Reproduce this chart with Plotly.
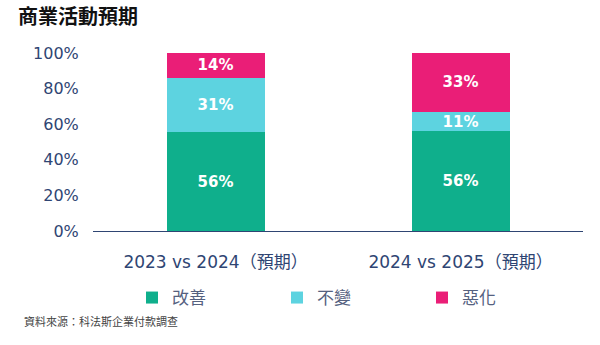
import plotly.graph_objects as go

categories = ["2023 vs 2024（預期）", "2024 vs 2025（預期）"]
series_names = ["改善", "不變", "惡化"]
improve = [56, 56]
unchanged = [31, 11]
worse = [14, 33]
colors = ["#0FAF8C", "#5DD3E0", "#EA1E77"]
y_ticks = [0, 20, 40, 60, 80, 100]

FONT = "DejaVu Sans, Noto Sans CJK TC, sans-serif"
NAVY = "#2F4573"
legend_ids = ["legend", "legend2", "legend3"]
legend_x_px = [132, 277, 422]

fig = go.Figure()
for name, vals, col, lg in zip(series_names, [improve, unchanged, worse], colors, legend_ids):
    fig.add_trace(go.Bar(
        x=categories, y=vals, name=name, marker=dict(color=col, line=dict(width=0)),
        text=[f"{v}%" for v in vals], textposition="inside", insidetextanchor="middle",
        textangle=0, constraintext="none", legend=lg,
        textfont=dict(family=FONT, size=15, color="white", weight="bold"),
        hoverinfo="skip",
    ))

legend_common = dict(orientation="h", xref="container", yref="container",
                     xanchor="left", y=1 - 298 / 345, yanchor="middle",
                     font=dict(size=17, color="#55617F"), bgcolor="rgba(0,0,0,0)")
layout_legends = {}
for lg, xp in zip(legend_ids, legend_x_px):
    layout_legends[lg] = dict(legend_common, x=xp / 600)

fig.update_layout(
    barmode="stack", barnorm="percent", bargap=0.6,
    width=600, height=345,
    margin=dict(l=93, r=17, t=53, b=114, autoexpand=False),
    paper_bgcolor="white", plot_bgcolor="white",
    font=dict(family=FONT, color=NAVY, size=16),
    showlegend=True,
    annotations=[
        dict(text="<b>商業活動預期</b>", xref="paper", yref="paper", x=-0.157, y=1.202,
             xanchor="left", yanchor="middle", showarrow=False,
             font=dict(size=20, color="#111111", family=FONT)),
        dict(text="資料來源：科法斯企業付款調查", xref="paper", yref="paper", x=-0.145, y=-0.512,
             xanchor="left", yanchor="middle", showarrow=False,
             font=dict(size=11, color="#444444", family=FONT)),
    ],
    **layout_legends,
)
fig.update_yaxes(range=[0, 100], tickvals=y_ticks, ticktext=[f"{t}%" for t in y_ticks],
                 showgrid=False, zeroline=False, showline=False,
                 ticks="outside", ticklen=10, tickcolor="rgba(0,0,0,0)",
                 tickfont=dict(size=16, color=NAVY))
fig.update_xaxes(showline=True, linecolor=NAVY, linewidth=1, showgrid=False,
                 ticks="outside", ticklen=16, tickcolor="rgba(0,0,0,0)",
                 tickfont=dict(size=17, color=NAVY))

fig.write_html("out.html")
